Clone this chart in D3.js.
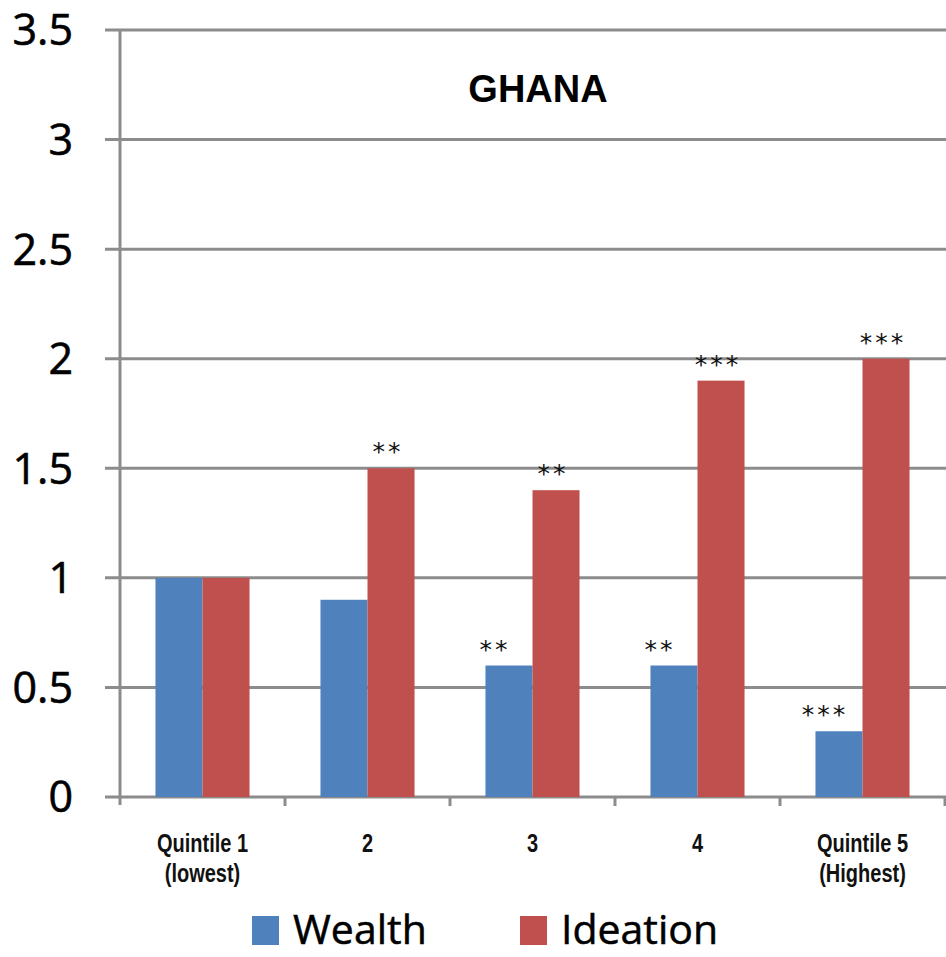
<!DOCTYPE html>
<html>
<head>
<meta charset="utf-8">
<script src="https://d3js.org/d3.v7.min.js"></script>
<style>
  body { margin: 0; background: #fff; }
  svg { display: block; }
</style>
</head>
<body>
<div id="chart"></div>
<script>
var categories = ["Quintile 1|(lowest)", "2", "3", "4", "Quintile 5|(Highest)"];
var wealth = [1, 0.9, 0.6, 0.6, 0.3];
var ideation = [1, 1.5, 1.4, 1.9, 2.0];
var wealthSig = ["", "", "**", "**", "***"];
var ideationSig = ["", "**", "**", "***", "***"];
var yTicks = [0, 0.5, 1, 1.5, 2, 2.5, 3, 3.5];
var seriesNames = ["Wealth", "Ideation"];
var colors = ["#4f81bd", "#c0504d"];

var width = 946, height = 957;
var margin = { top: 30, right: 1, bottom: 160, left: 120 };

var svg = d3.select("#chart").append("svg")
  .attr("width", width)
  .attr("height", height);

var x = d3.scaleBand()
  .domain(categories)
  .range([margin.left, width - margin.right])
  .paddingInner(0.43)
  .paddingOuter(0.215);

// the band above is the bar pair; the category slots are the full fifths
var slot = d3.scaleBand()
  .domain(categories)
  .range([margin.left, width - margin.right]);

var inner = d3.scaleBand()
  .domain(seriesNames)
  .range([0, x.bandwidth()]);

var y = d3.scaleLinear()
  .domain([0, 3.5])
  .range([height - margin.bottom, margin.top]);

// gridlines
svg.append("g")
  .selectAll("line")
  .data(yTicks)
  .enter().append("line")
  .attr("x1", margin.left - 15)
  .attr("x2", width)
  .attr("y1", function (d) { return y(d); })
  .attr("y2", function (d) { return y(d); })
  .attr("stroke", "#8c8c8c")
  .attr("stroke-width", 3);

// y labels
svg.append("g")
  .selectAll("text")
  .data(yTicks)
  .enter().append("text")
  .attr("x", 73)
  .attr("y", function (d) { return y(d); })
  .attr("dy", "0.36em")
  .attr("text-anchor", "end")
  .attr("font-family", "Open Sans, sans-serif")
  .attr("font-size", 43)
  .attr("fill", "#000")
  .attr("stroke", "#000")
  .attr("stroke-width", 0.6)
  .text(function (d) { return d; });

// bars
var groups = svg.append("g")
  .selectAll("g")
  .data(categories)
  .enter().append("g")
  .attr("transform", function (d) { return "translate(" + x(d) + ",0)"; });

groups.selectAll("rect")
  .data(function (d, i) {
    return [
      { s: "Wealth", v: wealth[i], c: colors[0], sig: wealthSig[i] },
      { s: "Ideation", v: ideation[i], c: colors[1], sig: ideationSig[i] }
    ];
  })
  .enter().append("rect")
  .attr("x", function (d) { return inner(d.s); })
  .attr("width", inner.bandwidth())
  .attr("y", function (d) { return y(d.v); })
  .attr("height", function (d) { return y(0) - y(d.v); })
  .attr("fill", function (d) { return d.c; });

// significance stars
groups.selectAll("text")
  .data(function (d, i) {
    return [
      { s: "Wealth", v: wealth[i], sig: wealthSig[i] },
      { s: "Ideation", v: ideation[i], sig: ideationSig[i] }
    ];
  })
  .enter().append("text")
  .attr("x", function (d) {
    return inner(d.s) + inner.bandwidth() / 2 + (d.s == "Wealth" ? -14 : -3);
  })
  .attr("y", function (d) { return y(d.v) - 8; })
  .attr("text-anchor", "middle")
  .attr("font-family", "DejaVu Sans, sans-serif")
  .attr("font-size", 25)
  .attr("letter-spacing", 3)
  .attr("fill", "#111")
  .text(function (d) { return d.sig; });

// axes lines
svg.append("line")
  .attr("x1", margin.left).attr("x2", margin.left)
  .attr("y1", margin.top).attr("y2", y(0) + 8)
  .attr("stroke", "#8c8c8c").attr("stroke-width", 3);

svg.append("g")
  .selectAll("line")
  .data(categories)
  .enter().append("line")
  .attr("x1", function (d) { return slot(d) + slot.bandwidth(); })
  .attr("x2", function (d) { return slot(d) + slot.bandwidth(); })
  .attr("y1", y(0))
  .attr("y2", y(0) + 9)
  .attr("stroke", "#8c8c8c").attr("stroke-width", 3);

// category labels (condensed bold)
var catLabels = svg.append("g")
  .selectAll("g")
  .data(categories)
  .enter().append("g")
  .attr("transform", function (d) {
    return "translate(" + (slot(d) + slot.bandwidth() / 2) + ",852) scale(0.8,1)";
  })
  .append("text")
  .attr("text-anchor", "middle")
  .attr("font-family", "Liberation Sans, Arial, sans-serif")
  .attr("font-weight", "bold")
  .attr("font-size", 25)
  .attr("fill", "#111");

catLabels.selectAll("tspan")
  .data(function (d) { return d.split("|"); })
  .enter().append("tspan")
  .attr("x", 0)
  .attr("dy", function (d, i) { return i == 0 ? 0 : 30; })
  .text(function (d) { return d; });

// title
svg.append("text")
  .attr("x", 538)
  .attr("y", 102)
  .attr("text-anchor", "middle")
  .attr("font-family", "Liberation Sans, Arial, sans-serif")
  .attr("font-weight", "bold")
  .attr("font-size", 38)
  .attr("fill", "#000")
  .text("GHANA");

// legend
var legendX = [252, 520];
var legend = svg.append("g")
  .selectAll("g")
  .data(seriesNames)
  .enter().append("g")
  .attr("transform", function (d, i) { return "translate(" + legendX[i] + ",916)"; });

legend.append("rect")
  .attr("width", 27)
  .attr("height", 29)
  .attr("fill", function (d, i) { return colors[i]; });

legend.append("text")
  .attr("x", 41)
  .attr("y", 28)
  .attr("font-family", "Open Sans, sans-serif")
  .attr("font-size", 41)
  .attr("fill", "#000")
  .attr("stroke", "#000")
  .attr("stroke-width", 0.5)
  .text(function (d) { return d; });
</script>
</body>
</html>
